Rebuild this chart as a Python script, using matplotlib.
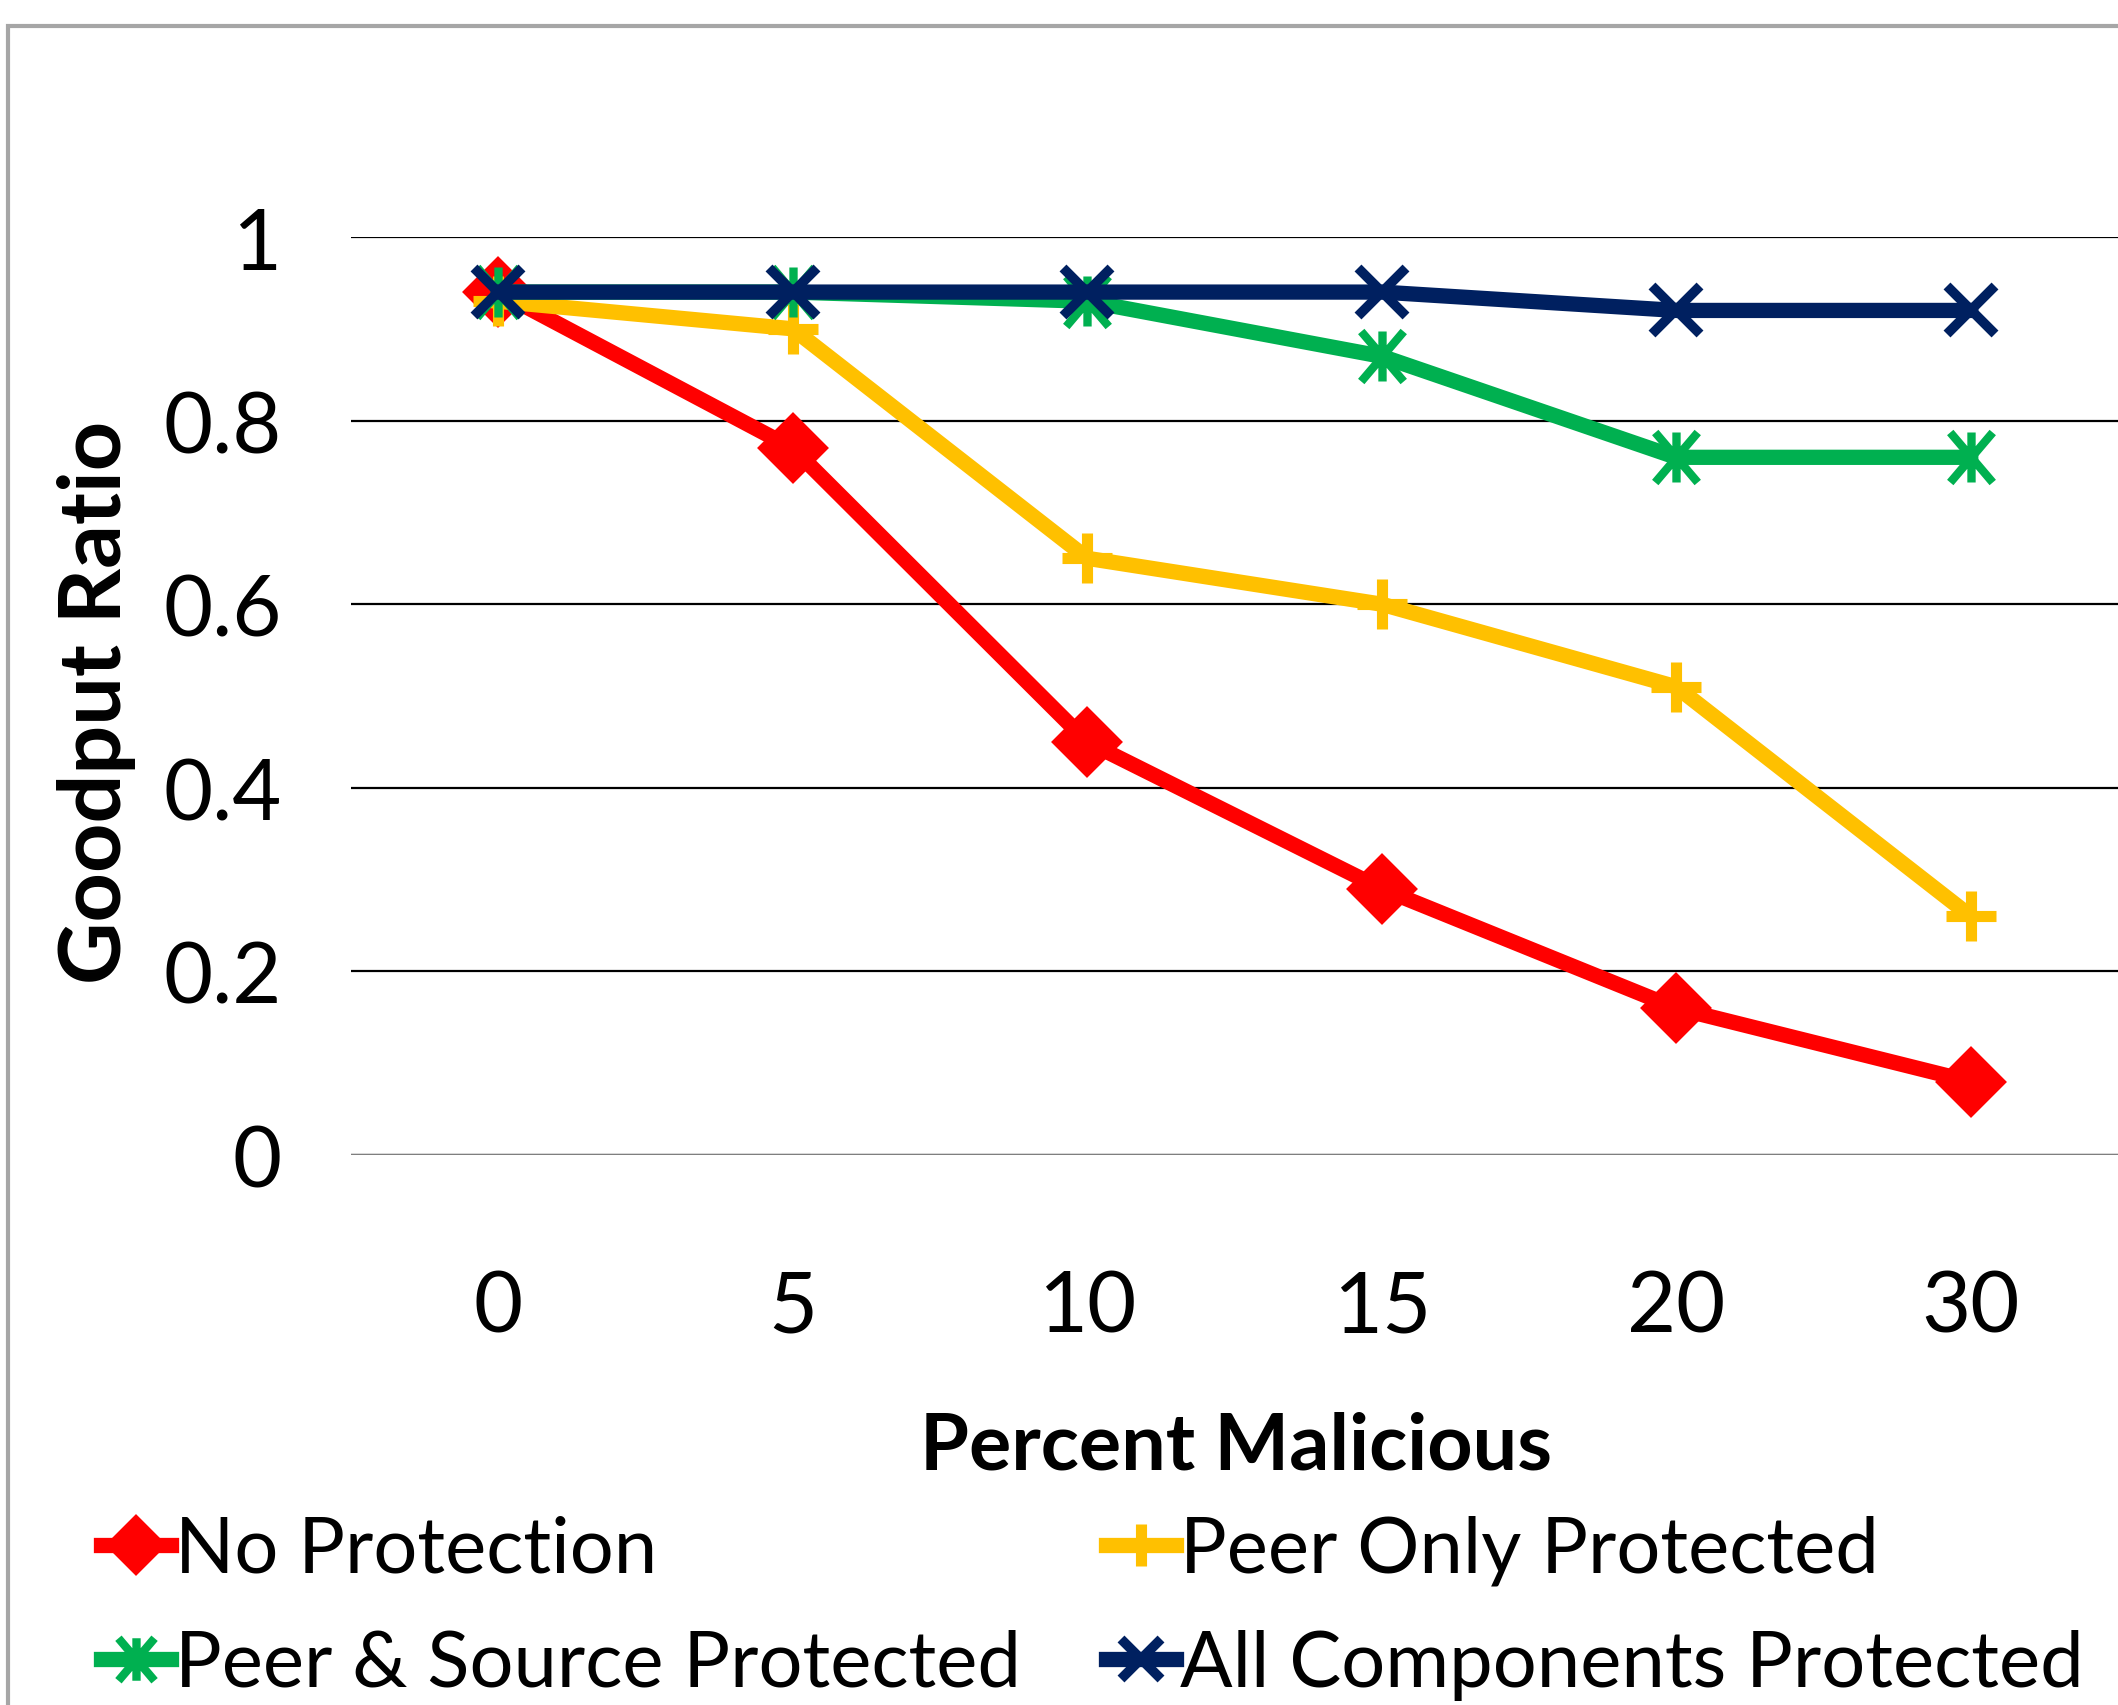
import matplotlib
matplotlib.use("Agg")
import matplotlib.pyplot as plt
from matplotlib.path import Path
from matplotlib.patches import Rectangle

# data
categories = ["0", "5", "10", "15", "20", "30"]
no_protection = [0.94, 0.77, 0.45, 0.29, 0.16, 0.08]
peer_only = [0.93, 0.90, 0.65, 0.60, 0.51, 0.26]
peer_source = [0.94, 0.94, 0.93, 0.87, 0.76, 0.76]
all_components = [0.94, 0.94, 0.94, 0.94, 0.92, 0.92]
y_ticks = [0, 0.2, 0.4, 0.6, 0.8, 1]
y_tick_labels = ["0", "0.2", "0.4", "0.6", "0.8", "1"]

plt.rcParams["font.family"] = ["Lato", "DejaVu Sans"]

# asterisk: vertical bar plus two diagonals
star = Path([(0, -1), (0, 1), (-0.85, -1), (0.85, 1), (-0.85, 1), (0.85, -1)],
            [Path.MOVETO, Path.LINETO, Path.MOVETO, Path.LINETO, Path.MOVETO, Path.LINETO])

fig = plt.figure(figsize=(21.18, 17.06), dpi=100)
ax = fig.add_axes([351 / 2118, 1 - 1156 / 1706, 1 - 351 / 2118, (1156 - 238) / 1706])

x = list(range(len(categories)))
lw = 11
h1, = ax.plot(x, no_protection, color="#FF0000", lw=lw, marker="D", ms=34,
              mec="#FF0000", mew=3, label="No Protection", zorder=3)
h2, = ax.plot(x, peer_only, color="#FFC000", lw=lw, marker="+", ms=36,
              mew=8, label="Peer Only Protected", zorder=4)
h3, = ax.plot(x, peer_source, color="#00B050", lw=lw, marker=star, ms=36,
              mew=6, label="Peer & Source Protected", zorder=5)
h4, = ax.plot(x, all_components, color="#002060", lw=lw, marker="x", ms=34,
              mew=7, label="All Components Protected", zorder=6)

ax.set_xlim(-0.5, len(categories) - 0.5)
ax.set_ylim(0, 1)
ax.set_xticks(x)
ax.set_xticklabels(categories, fontsize=61)
ax.set_yticks(y_ticks)
ax.set_yticklabels(y_tick_labels, fontsize=61)
ax.tick_params(axis="both", length=0)
ax.tick_params(axis="y", pad=50)
ax.tick_params(axis="x", pad=82)
for s in ax.spines.values():
    s.set_visible(False)
ax.set_axisbelow(True)
ax.grid(axis="y", color="black", lw=1.6)
ax.axhline(0, color="#7F7F7F", lw=1.6, zorder=1)

fig.text(97 / 2118, 1 - 702 / 1706, "Goodput Ratio", rotation=90, fontsize=62,
         fontweight="bold", ha="center", va="center")
fig.text(1236 / 2118, 1 - 1448 / 1706, "Percent Malicious", fontsize=57,
         fontweight="bold", ha="center", va="center")

# row-wise order for a 2-column legend
leg = fig.legend([h1, h3, h2, h4],
                 [h1.get_label(), h3.get_label(), h2.get_label(), h4.get_label()],
                 loc="upper left", bbox_to_anchor=(101 / 2118, 1 - 1516 / 1706),
                 ncol=2, frameon=False, fontsize=56, handlelength=0.9,
                 handletextpad=0.05, columnspacing=1.1, labelspacing=0.55,
                 borderaxespad=0, borderpad=0, markerscale=0.85)

# chart border (only top and left edges are visible in the crop)
fig.patches.append(Rectangle((8 / 2118, -0.1), 1.2, 1 - 27 / 1706 + 0.1,
                             transform=fig.transFigure, fill=False,
                             ec="#A6A6A6", lw=3))

fig.savefig("out.png", dpi=100)
